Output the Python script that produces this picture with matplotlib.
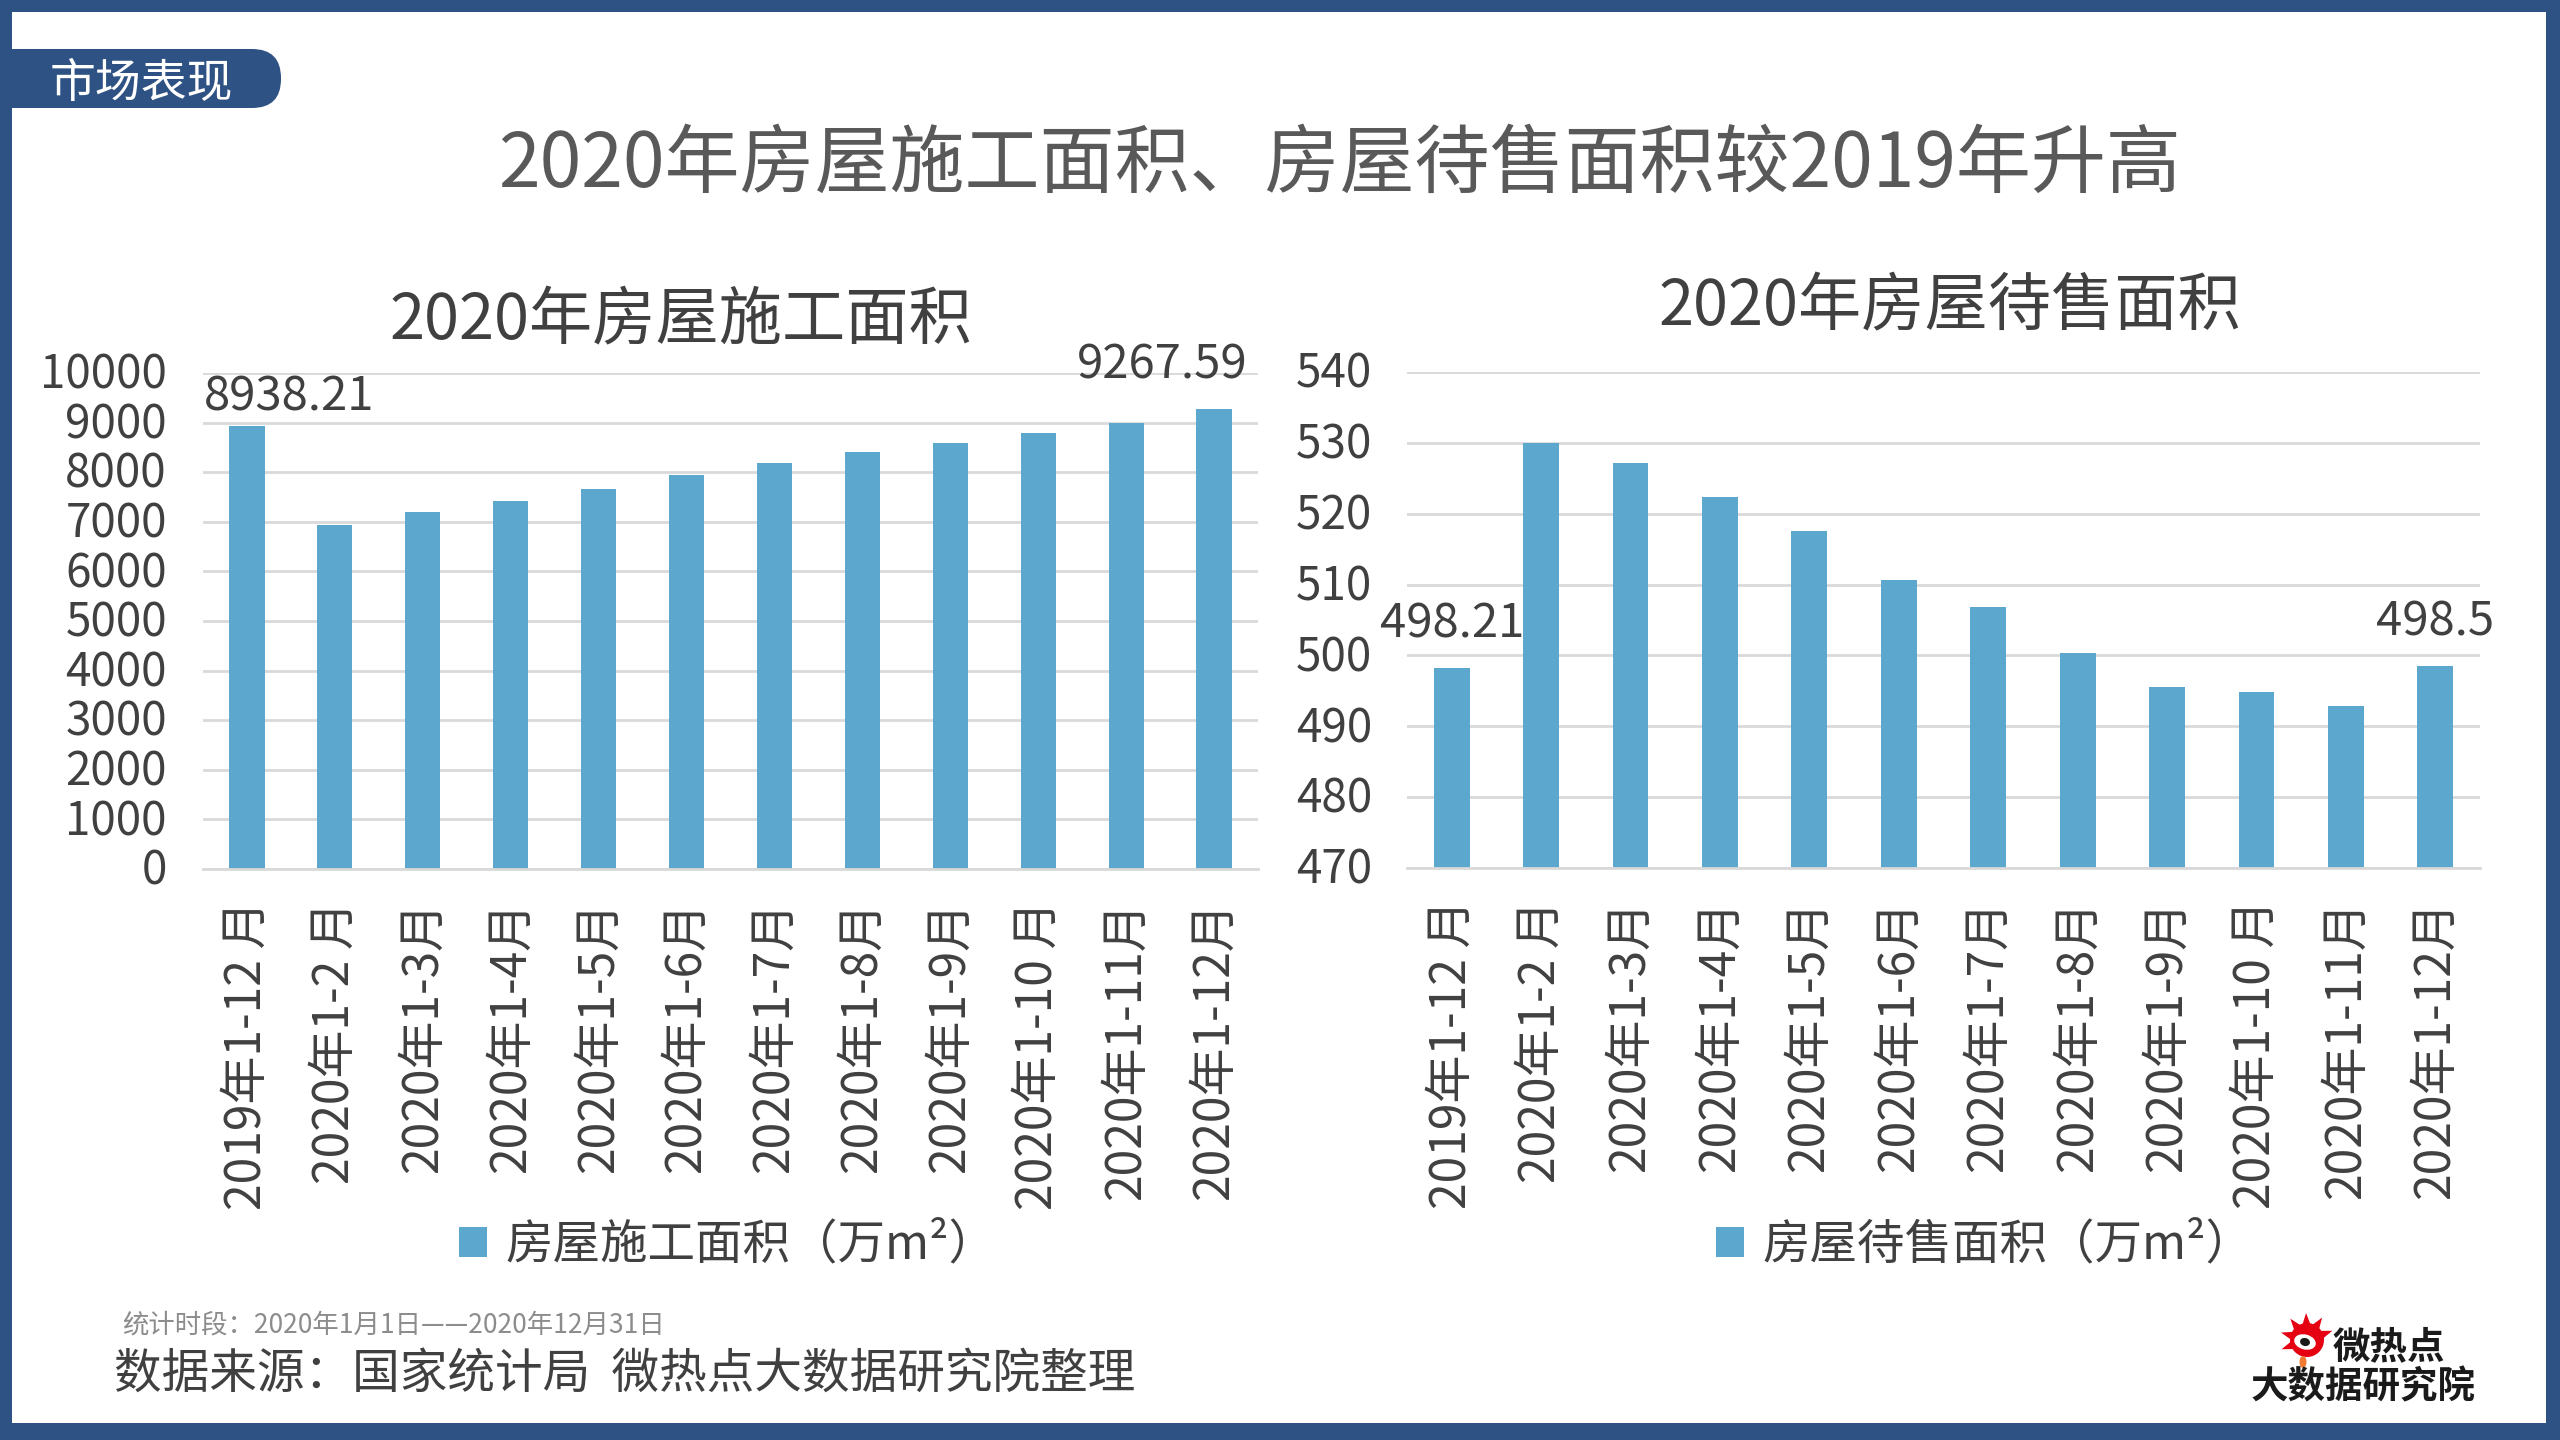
import math
import matplotlib
matplotlib.use("Agg")
import matplotlib.pyplot as plt
from matplotlib.patches import Rectangle, FancyBboxPatch, Circle, Ellipse, Polygon
from matplotlib.transforms import ScaledTranslation

plt.rcParams['font.family'] = ['Noto Sans CJK SC', 'DejaVu Sans']

# ---------------- data ----------------
categories_left = ["2019年1-12 月", "2020年1-2 月", "2020年1-3月", "2020年1-4月", "2020年1-5月",
                   "2020年1-6月", "2020年1-7月", "2020年1-8月", "2020年1-9月", "2020年1-10 月",
                   "2020年1-11月", "2020年1-12月"]
categories_right = categories_left
construction_area = [8938.21, 6935.77, 7202.68, 7425.85, 7661.83, 7940.14,
                     8179.49, 8399.21, 8592.38, 8788.73, 8990.35, 9267.59]
unsold_area = [498.21, 529.91, 527.2, 522.4, 517.6, 510.7,
               506.9, 500.3, 495.6, 494.9, 492.8, 498.5]
left_yticks = [0, 1000, 2000, 3000, 4000, 5000, 6000, 7000, 8000, 9000, 10000]
right_yticks = [470, 480, 490, 500, 510, 520, 530, 540]

main_title = "2020年房屋施工面积、房屋待售面积较2019年升高"
left_title = "2020年房屋施工面积"
right_title = "2020年房屋待售面积"
left_legend = "房屋施工面积（万m²）"
right_legend = "房屋待售面积（万m²）"
badge_text = "市场表现"
period_text = "统计时段：2020年1月1日——2020年12月31日"
source_text = "数据来源：国家统计局  微热点大数据研究院整理"

BAR = "#5BA7CE"
GRID = "#D9D9D9"
TXT = "#404040"
FRAME = "#2D5283"

W, H = 2560, 1440
fig = plt.figure(figsize=(25.6, 14.4), dpi=100)
fig.patch.set_facecolor("white")

def fx(px):
    return px / W

def fy(py):
    return 1 - py / H

# background / decoration axes in pixel coordinates
bg = fig.add_axes([0, 0, 1, 1], zorder=0)
bg.set_xlim(0, W)
bg.set_ylim(H, 0)
bg.axis("off")

# frame
for (x, y, w, h) in [(0, 0, W, 12), (0, 0, 12, H), (2546, 0, 14, H), (0, 1423, W, 17)]:
    bg.add_patch(Rectangle((x, y), w, h, facecolor=FRAME, edgecolor="none"))

# badge
bg.add_patch(FancyBboxPatch((-40, 49), 321, 59, boxstyle="round,pad=0,rounding_size=29",
                            facecolor=FRAME, edgecolor="none"))
bg.text(50, 84, badge_text, color="white", fontsize=33, ha="left", va="center")

# logo
bg.add_patch(Circle((2307, 1340), 17, facecolor="#E50012", edgecolor="none"))
for k in range(6):
    a = math.radians(200 - k * 36)
    tip = (2307 + 27 * math.cos(a), 1340 - 27 * math.sin(a))
    b1 = (2307 + 15 * math.cos(a - 0.3), 1340 - 15 * math.sin(a - 0.3))
    b2 = (2307 + 15 * math.cos(a + 0.3), 1340 - 15 * math.sin(a + 0.3))
    bg.add_patch(Polygon([tip, b1, b2], closed=True, facecolor="#E50012", edgecolor="none"))
bg.add_patch(Ellipse((2305, 1342), 22, 15, angle=15, facecolor="white", edgecolor="none"))
bg.add_patch(Ellipse((2305, 1342), 10, 8, angle=15, facecolor="#1A1A1A", edgecolor="none"))
bg.add_patch(Ellipse((2303, 1362), 7, 12, facecolor="#F07A32", edgecolor="none"))
bg.text(2333, 1347, "微热点", color="#1A1A1A", fontsize=27, fontweight="bold", ha="left", va="center")
bg.text(2363, 1387, "大数据研究院", color="#1A1A1A", fontsize=27, fontweight="bold", ha="center", va="center")

# titles and footers
fig.text(fx(1339), fy(165), main_title, color="#595959", fontsize=54, fontweight="medium",
         ha="center", va="center")
fig.text(fx(681), fy(321), left_title, color=TXT, fontsize=45.5, ha="center", va="center")
fig.text(fx(1950), fy(307), right_title, color=TXT, fontsize=45.5, ha="center", va="center")
fig.text(fx(122), fy(1325), period_text, color="#8C8C8C", fontsize=19, ha="left", va="center")
fig.text(fx(114), fy(1374), source_text, color=TXT, fontsize=34.3, ha="left", va="center")


def style_axes(ax, ypad):
    for s in ["top", "right", "left"]:
        ax.spines[s].set_visible(False)
    ax.spines["bottom"].set_color(GRID)
    ax.spines["bottom"].set_linewidth(2)
    ax.yaxis.grid(True, color=GRID, linewidth=2)
    ax.set_axisbelow(True)
    ax.tick_params(axis="y", length=0, pad=ypad, labelsize=33, labelcolor=TXT)
    ax.tick_params(axis="x", length=0, pad=23, labelsize=34.5, labelcolor=TXT, labelrotation=90)
    shift = ScaledTranslation(0, 3 / 100, fig.dpi_scale_trans)
    for lab in ax.get_yticklabels():
        lab.set_transform(lab.get_transform() + shift)


# left chart
axL = fig.add_axes([fx(203), fy(869), fx(1258 - 203), (869 - 373) / H], zorder=1)
xs = list(range(len(categories_left)))
barsL = axL.bar(xs, construction_area, width=0.4, color=BAR, label=left_legend)
axL.set_xlim(-0.5, len(xs) - 0.5)
axL.set_ylim(left_yticks[0], left_yticks[-1])
axL.set_yticks(left_yticks)
axL.set_xticks(xs)
axL.set_xticklabels(categories_left)
style_axes(axL, 26)
axL.annotate(f"{construction_area[0]:.2f}", (xs[0], construction_area[0]),
             xytext=(30, 11), textcoords="offset points", ha="center", va="baseline",
             fontsize=34, color=TXT)
axL.annotate(f"{construction_area[-1]:.2f}", (xs[-1], construction_area[-1]),
             xytext=(-37, 22), textcoords="offset points", ha="center", va="baseline",
             fontsize=34, color=TXT)
axL.legend(handles=[barsL], loc="center left", bbox_to_anchor=(fx(459), fy(1245)),
           bbox_transform=fig.transFigure, frameon=False, fontsize=34.2,
           handlelength=0.59, handleheight=0.59, handletextpad=0.38,
           borderpad=0, borderaxespad=0, labelcolor=TXT)

# right chart
axR = fig.add_axes([fx(1407), fy(868), fx(2480 - 1407), (868 - 372) / H], zorder=1)
xs2 = list(range(len(categories_right)))
barsR = axR.bar(xs2, unsold_area, width=0.4, color=BAR, label=right_legend)
axR.set_xlim(-0.5, len(xs2) - 0.5)
axR.set_ylim(right_yticks[0], right_yticks[-1])
axR.set_yticks(right_yticks)
axR.set_xticks(xs2)
axR.set_xticklabels(categories_right)
style_axes(axR, 25)
axR.annotate(f"{unsold_area[0]:.2f}", (xs2[0], unsold_area[0]),
             xytext=(0, 22), textcoords="offset points", ha="center", va="baseline",
             fontsize=34, color=TXT)
axR.annotate(f"{unsold_area[-1]:g}", (xs2[-1], unsold_area[-1]),
             xytext=(0, 22), textcoords="offset points", ha="center", va="baseline",
             fontsize=34, color=TXT)
axR.legend(handles=[barsR], loc="center left", bbox_to_anchor=(fx(1716), fy(1245)),
           bbox_transform=fig.transFigure, frameon=False, fontsize=34.2,
           handlelength=0.59, handleheight=0.59, handletextpad=0.38,
           borderpad=0, borderaxespad=0, labelcolor=TXT)

fig.savefig("out.png", dpi=100, facecolor="white")
